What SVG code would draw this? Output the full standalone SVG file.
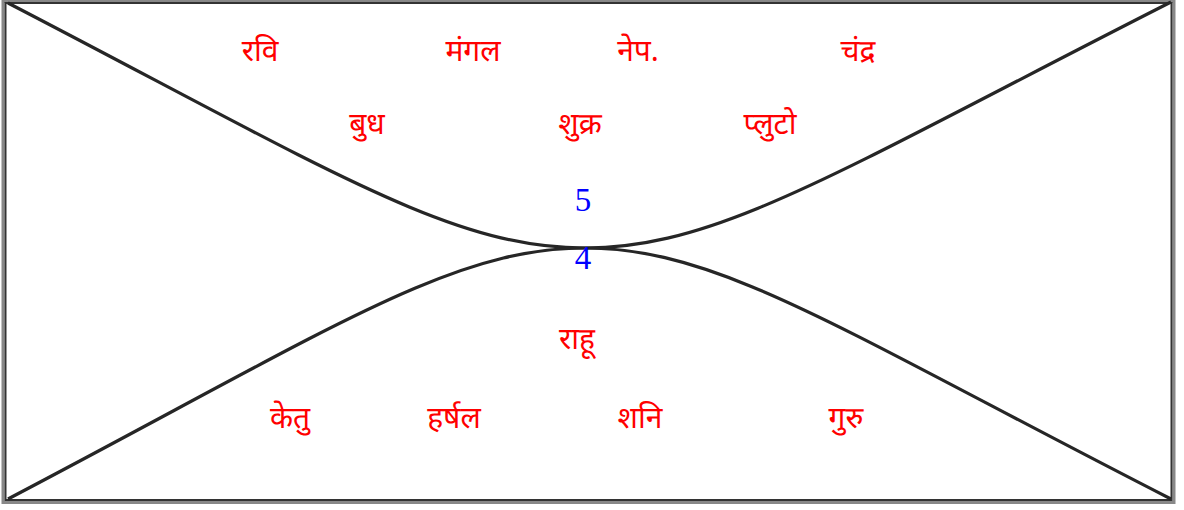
<svg xmlns="http://www.w3.org/2000/svg" width="1184" height="510" viewBox="0 0 1184 510">
<style>
.lbl{font-family:"Noto Sans Devanagari","Noto Serif Devanagari","Lohit Devanagari","Mangal","Noto Sans",sans-serif;font-size:30px;fill:#ff0000;text-anchor:middle}
.num{font-family:"Liberation Serif",serif;font-size:33px;fill:#0000ff;text-anchor:middle}
.ln{fill:none;stroke:#262626;stroke-width:3.2}
</style>
<rect width="1184" height="510" fill="#fff"/>
<rect x="3" y="1.5" width="1171" height="501" fill="none" stroke="#888" stroke-width="3"/>
<rect x="5.5" y="3" width="1166" height="497" fill="none" stroke="#333" stroke-width="2"/>
<g id="connectors">
<path class="ln" d="M8,3 C330,170 450,248 585,248 C720,248 840,170 1171,2"/>
<path class="ln" d="M8,499 C330,330 450,248 585,248 C720,248 840,330 1171,499"/>
</g>
<g id="n-ravi"><text class="lbl" x="260" y="61">रवि</text></g>
<g id="n-mangal"><text class="lbl" x="473" y="61">मंगल</text></g>
<g id="n-nep"><text class="lbl" x="638" y="61">नेप.</text></g>
<g id="n-chandra"><text class="lbl" x="858" y="61">चंद्र</text></g>
<g id="n-budh"><text class="lbl" x="367" y="134">बुध</text></g>
<g id="n-shukra"><text class="lbl" x="580" y="134">शुक्र</text></g>
<g id="n-pluto"><text class="lbl" x="770" y="134">प्लुटो</text></g>
<g id="n-5"><text class="num" x="583" y="211">5</text></g>
<g id="n-4"><text class="num" x="583" y="269">4</text></g>
<g id="n-rahu"><text class="lbl" x="577" y="349">राहू</text></g>
<g id="n-ketu"><text class="lbl" x="290" y="428">केतु</text></g>
<g id="n-harshal"><text class="lbl" x="454" y="428">हर्षल</text></g>
<g id="n-shani"><text class="lbl" x="640" y="428">शनि</text></g>
<g id="n-guru"><text class="lbl" x="846" y="428">गुरु</text></g>
</svg>
